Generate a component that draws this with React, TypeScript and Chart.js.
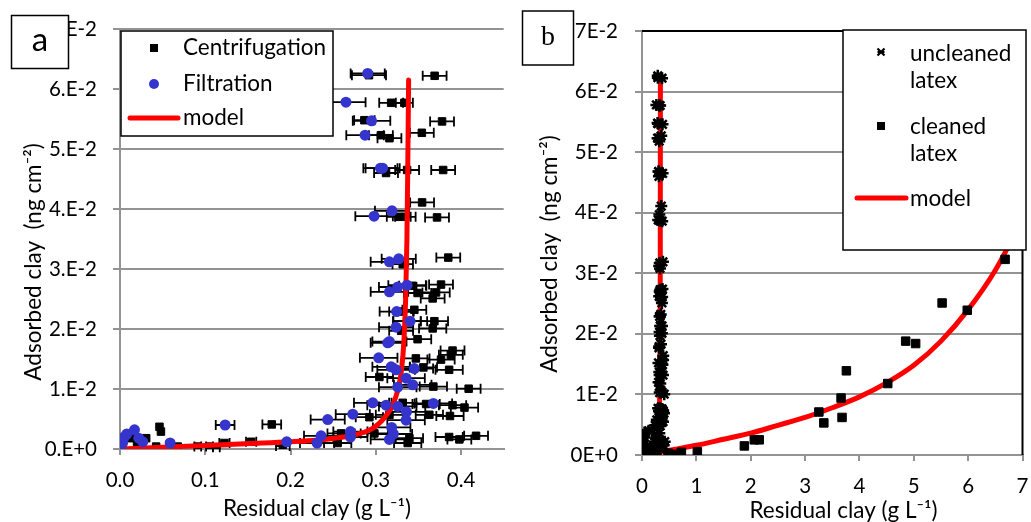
import React, { useEffect, useRef } from 'react';
import { Chart, registerables } from 'chart.js';
Chart.register(...registerables);

const FONT = "Lato, 'Noto Sans', sans-serif";

// ---------- Panel a : Centrifugation ----------
const centX = [0.292, 0.369, 0.318, 0.3335, 0.2866, 0.3777, 0.354, 0.306, 0.316, 0.312, 0.3367, 0.379, 0.3543, 0.3269, 0.3347, 0.3718, 0.3316, 0.385, 0.3433, 0.3765, 0.349, 0.3707, 0.3667, 0.3297, 0.3452, 0.3367, 0.3687, 0.3667, 0.3297, 0.349, 0.39, 0.388, 0.347, 0.3765, 0.3558, 0.386, 0.3042, 0.3675, 0.4089, 0.3316, 0.359, 0.39, 0.404, 0.2925, 0.316, 0.3628, 0.387, 0.2593, 0.2553, 0.2983, 0.3394, 0.3374, 0.386, 0.4176, 0.398, 0.013, 0.0307, 0.0463, 0.048, 0.0424, 0.0678, 0.0912, 0.105, 0.113, 0.1225, 0.178, 0.1538, 0.191, 0.0, 0.02];
const centY = [0.0623, 0.0622, 0.0577, 0.0577, 0.0548, 0.0546, 0.0527, 0.0523, 0.0518, 0.046, 0.0465, 0.0465, 0.0411, 0.0387, 0.0387, 0.0386, 0.0308, 0.0319, 0.0272, 0.0274, 0.026, 0.0261, 0.0251, 0.0229, 0.0232, 0.0213, 0.0213, 0.0201, 0.0197, 0.0183, 0.0164, 0.0157, 0.0151, 0.0149, 0.0136, 0.0132, 0.012, 0.0104, 0.01005, 0.0077, 0.0075, 0.0073, 0.0069, 0.0053, 0.0057, 0.0057, 0.0055, 0.0026, 0.001, 0.0026, 0.0018, 0.001, 0.002, 0.0022, 0.0016, 0.0018, 0.0018, 0.0037, 0.0029, 0.0004, 0.0004, 0.0004, 0.0004, 0.0003, 0.001, 0.0041, 0.0012, 0.0005, 0.0005, 0.0008];
const centErr = [0.02, 0.014, 0.014, 0.01, 0.012, 0.014, 0.014, 0.014, 0.014, 0.014, 0.014, 0.014, 0.014, 0.014, 0.012, 0.014, 0.012, 0.014, 0.016, 0.014, 0.016, 0.016, 0.014, 0.014, 0.014, 0.016, 0.016, 0.016, 0.014, 0.016, 0.014, 0.014, 0.016, 0.016, 0.016, 0.016, 0.016, 0.016, 0.014, 0.016, 0.016, 0.016, 0.016, 0.016, 0.016, 0.016, 0.016, 0.016, 0.016, 0.016, 0.016, 0.016, 0.016, 0.014, 0.014, 0, 0, 0, 0, 0, 0, 0.004, 0.004, 0.004, 0.006, 0.011, 0.006, 0.008, 0, 0];

// ---------- Panel a : Filtration ----------
const filtX = [0.2905, 0.265, 0.295, 0.2874, 0.3054, 0.308, 0.319, 0.298, 0.3269, 0.316, 0.3367, 0.3257, 0.316, 0.3245, 0.3402, 0.3238, 0.316, 0.314, 0.3034, 0.318, 0.3238, 0.3452, 0.3355, 0.3433, 0.3257, 0.2964, 0.312, 0.3257, 0.3675, 0.273, 0.2436, 0.336, 0.3355, 0.3186, 0.3206, 0.316, 0.2702, 0.2702, 0.2358, 0.2311, 0.1955, 0.0, 0.005, 0.017, 0.0267, 0.0588, 0.1233, 0.003, 0.008, 0.022];
const filtY = [0.0626, 0.0578, 0.0547, 0.0523, 0.0468, 0.0468, 0.0397, 0.0388, 0.0317, 0.0312, 0.0273, 0.027, 0.0262, 0.0229, 0.0213, 0.0203, 0.0179, 0.0177, 0.0152, 0.0137, 0.0132, 0.0134, 0.0118, 0.0107, 0.0103, 0.0077, 0.0073, 0.0071, 0.0076, 0.0058, 0.0049, 0.0062, 0.0048, 0.0036, 0.0025, 0.0016, 0.0029, 0.002, 0.0022, 0.001, 0.0012, 0.0004, 0.002, 0.0032, 0.0012, 0.001, 0.004, 0.001, 0.0025, 0.0018];
const filtErr = [0.02, 0.023, 0.022, 0.022, 0.02, 0.02, 0.02, 0.022, 0.02, 0.022, 0.022, 0.022, 0.022, 0.02, 0.02, 0.02, 0.02, 0.02, 0.022, 0.022, 0.022, 0.022, 0.022, 0.022, 0.022, 0.022, 0.022, 0.022, 0.022, 0.02, 0.02, 0.022, 0.022, 0.022, 0.022, 0.022, 0.02, 0.02, 0.02, 0.02, 0, 0, 0, 0, 0, 0, 0.011, 0, 0, 0];

// ---------- Model (panel a, also the steep curve of panel b) ----------
const modelAX = [0, 0.05, 0.1, 0.15, 0.2, 0.24, 0.27, 0.29, 0.3, 0.31, 0.318, 0.323, 0.327, 0.33, 0.333, 0.335, 0.3365, 0.3375, 0.3385];
const modelAY = [0, 0.0003, 0.0006, 0.0009, 0.0012, 0.0016, 0.0022, 0.003, 0.0038, 0.0052, 0.0068, 0.0085, 0.0105, 0.013, 0.018, 0.025, 0.035, 0.047, 0.0615];

// ---------- Panel b : cleaned latex ----------
const cleanX = [0.27, 0.48, 0.634, 0.725, 1.018, 1.883, 2.066, 2.157, 3.254, 3.345, 3.662, 3.68, 3.76, 4.521, 4.851, 5.034, 5.521, 5.984, 6.68];
const cleanY = [0.0003, 0.0003, 0.0001, 0.00045, 0.00055, 0.0015, 0.0025, 0.0025, 0.0071, 0.0053, 0.0094, 0.0062, 0.0139, 0.0118, 0.0188, 0.0184, 0.0251, 0.0239, 0.0323];

// ---------- Panel b : model for cleaned latex ----------
const modelBX = [0.33, 0.5, 1, 1.5, 2, 2.5, 3, 3.5, 4, 4.5, 5, 5.5, 6, 6.5, 7];
const modelBY = [0.0005, 0.0008, 0.0016, 0.0026, 0.0036, 0.0049, 0.0062, 0.0078, 0.0096, 0.0119, 0.0148, 0.0188, 0.024, 0.0305, 0.039];

// ---------- Ticks ----------
const xTicksA = [0, 0.1, 0.2, 0.3, 0.4];
const xTickLabelsA = ['0.0', '0.1', '0.2', '0.3', '0.4'];
const xTicksB = [0, 1, 2, 3, 4, 5, 6, 7];
const xTickLabelsB = ['0', '1', '2', '3', '4', '5', '6', '7'];
const yTicks = [0, 0.01, 0.02, 0.03, 0.04, 0.05, 0.06, 0.07];
const yTickLabelsA = ['0.E+0', '1.E-2', '2.E-2', '3.E-2', '4.E-2', '5.E-2', '6.E-2', '7.E-2'];
const yTickLabelsB = ['0E+0', '1E-2', '2E-2', '3E-2', '4E-2', '5E-2', '6E-2', '7E-2'];

const xTitle = 'Residual clay (g L\u207B\u00B9)';
const yTitle = 'Adsorbed clay  (ng cm\u207B\u00B2)';

const pts = (xs: number[], ys: number[]) => xs.map((x, i) => ({ x, y: ys[i] }));

const GRID = '#939393';
const TICK_SIZE = 20.5;
const TITLE_SIZE = 22.5;
const LEGEND_SIZE = 22.5;

const errorBarPlugin = {
  id: 'errorBars',
  beforeDatasetsDraw(chart: any) {
    const ctx = chart.ctx;
    const xs = chart.scales.x;
    chart.data.datasets.forEach((ds: any, i: number) => {
      if (!ds.xErr) return;
      const meta = chart.getDatasetMeta(i);
      if (meta.hidden) return;
      ctx.save();
      ctx.strokeStyle = '#000';
      ctx.lineWidth = 1.8;
      ds.data.forEach((p: any, j: number) => {
        const e = ds.xErr[j];
        if (!e) return;
        const el = meta.data[j];
        const y = el.y;
        const x1 = xs.getPixelForValue(p.x - e);
        const x2 = xs.getPixelForValue(p.x + e);
        ctx.beginPath();
        ctx.moveTo(x1, y); ctx.lineTo(x2, y);
        ctx.moveTo(x1, y - 5); ctx.lineTo(x1, y + 5);
        ctx.moveTo(x2, y - 5); ctx.lineTo(x2, y + 5);
        ctx.stroke();
      });
      ctx.restore();
    });
  },
};

function drawMarker(ctx: CanvasRenderingContext2D, kind: string, color: string, x: number, y: number) {
  ctx.save();
  ctx.fillStyle = color;
  ctx.strokeStyle = color;
  if (kind === 'rect') {
    ctx.fillRect(x - 4, y - 4, 8, 8);
  } else if (kind === 'circle') {
    ctx.beginPath(); ctx.arc(x, y, 5, 0, Math.PI * 2); ctx.fill();
  } else if (kind === 'star') {
    ctx.lineWidth = 2.2;
    ctx.beginPath();
    ctx.moveTo(x - 3.5, y - 3.5); ctx.lineTo(x + 3.5, y + 3.5);
    ctx.moveTo(x - 3.5, y + 3.5); ctx.lineTo(x + 3.5, y - 3.5);
    ctx.moveTo(x - 3.5, y); ctx.lineTo(x + 3.5, y);
    ctx.stroke();
  }
  ctx.restore();
}

const overlayPlugin = {
  id: 'overlay',
  afterDraw(chart: any, _args: any, opts: any) {
    const ctx: CanvasRenderingContext2D = chart.ctx;
    const ca = chart.chartArea;
    ctx.save();
    if (opts.frame) {
      ctx.strokeStyle = '#000';
      ctx.lineWidth = 2;
      ctx.beginPath();
      ctx.moveTo(ca.left, ca.top); ctx.lineTo(ca.right, ca.top); ctx.lineTo(ca.right, ca.bottom);
      ctx.stroke();
    }
    // axis titles
    const T = opts.titles;
    if (T) {
      ctx.fillStyle = '#000';
      ctx.font = `${TITLE_SIZE}px ${FONT}`;
      ctx.textAlign = 'center';
      ctx.textBaseline = 'middle';
      ctx.fillText(T.x, T.xcx, T.xcy);
      ctx.save();
      ctx.translate(T.ycx, T.ycy);
      ctx.rotate(-Math.PI / 2);
      ctx.fillText(T.y, 0, 0);
      ctx.restore();
    }
    const L = opts.legend;
    if (L) {
      ctx.fillStyle = '#fff';
      ctx.fillRect(L.x, L.y, L.w, L.h);
      ctx.strokeStyle = '#000';
      ctx.lineWidth = 1.5;
      ctx.strokeRect(L.x, L.y, L.w, L.h);
      ctx.font = `${LEGEND_SIZE}px ${FONT}`;
      ctx.textBaseline = 'middle';
      ctx.textAlign = 'left';
      L.items.forEach((it: any) => {
        const ds = chart.data.datasets[it.ds];
        const lines = L.wrap ? String(ds.label).split(' ') : [String(ds.label)];
        if (it.kind === 'line') {
          ctx.save();
          ctx.strokeStyle = ds.borderColor;
          ctx.lineWidth = 5;
          ctx.lineCap = 'round';
          ctx.beginPath(); ctx.moveTo(it.mx1, it.my); ctx.lineTo(it.mx2, it.my); ctx.stroke();
          ctx.restore();
        } else {
          drawMarker(ctx, it.kind, ds.backgroundColor, it.mx, it.my);
        }
        ctx.fillStyle = '#000';
        lines.forEach((t: string, k: number) => ctx.fillText(t, L.tx, it.ty + k * L.lh));
      });
    }
    const P = opts.panel;
    if (P) {
      ctx.fillStyle = '#fff';
      ctx.fillRect(P.x, P.y, P.w, P.h);
      ctx.strokeStyle = '#000';
      ctx.lineWidth = 1.5;
      ctx.strokeRect(P.x, P.y, P.w, P.h);
      ctx.fillStyle = '#000';
      ctx.font = P.font;
      ctx.textAlign = 'center';
      ctx.textBaseline = 'middle';
      ctx.fillText(P.text, P.x + P.w / 2, P.y + P.h / 2 + P.dy);
    }
    ctx.restore();
  },
};

function buildOptions(cfg: any) {
  return {
    responsive: false,
    animation: false,
    devicePixelRatio: 1,
    layout: { padding: { top: cfg.padTop, right: cfg.padRight, left: 0, bottom: 0 } },
    plugins: {
      legend: { display: false },
      tooltip: { enabled: false },
      overlay: cfg.overlay,
    },
    scales: {
      x: {
        type: 'linear',
        min: cfg.xMin,
        max: cfg.xMax,
        afterFit: (s: any) => { s.height = cfg.xHeight; s.paddingLeft = 0; s.paddingRight = 0; },
        afterBuildTicks: (s: any) => { s.ticks = cfg.xTicks.map((v: number) => ({ value: v })); },
        grid: { display: true, drawOnChartArea: false, drawTicks: true, tickLength: 6, color: GRID, lineWidth: 2 },
        border: { display: true, color: GRID, width: 2 },
        ticks: {
          autoSkip: false,
          maxRotation: 0,
          padding: 13,
          color: '#000',
          font: { family: FONT, size: TICK_SIZE },
          callback: (_v: any, i: number) => cfg.xLabels[i],
        },
        title: { display: false, text: xTitle },
      },
      y: {
        type: 'linear',
        min: 0,
        max: 0.07,
        afterFit: (s: any) => { s.width = cfg.yWidth; s.paddingTop = 0; s.paddingBottom = 0; },
        afterBuildTicks: (s: any) => { s.ticks = yTicks.map((v) => ({ value: v })); },
        grid: { display: true, color: GRID, lineWidth: 2, tickLength: 7 },
        border: { display: true, color: GRID, width: 2 },
        ticks: {
          autoSkip: false,
          padding: cfg.yTickPad,
          color: '#000',
          font: { family: FONT, size: TICK_SIZE },
          callback: (_v: any, i: number) => cfg.yLabels[i],
        },
        title: { display: false, text: yTitle },
      },
    },
  };
}

function ChartA() {
  const ref = useRef<HTMLCanvasElement>(null);
  useEffect(() => {
    const chart = new Chart(ref.current as HTMLCanvasElement, {
      type: 'scatter',
      data: {
        datasets: [
          {
            label: 'Centrifugation', data: pts(centX, centY), xErr: centErr,
            pointStyle: 'rect', pointRadius: 5.3, backgroundColor: '#000', borderColor: '#000', borderWidth: 1, order: 2,
          } as any,
          {
            label: 'Filtration', data: pts(filtX, filtY), xErr: filtErr,
            pointStyle: 'circle', pointRadius: 5.5, backgroundColor: '#3535CD', borderColor: '#3535CD', borderWidth: 0, order: 0,
          } as any,
          {
            label: 'model', data: pts(modelAX, modelAY), showLine: true, pointRadius: 0,
            borderColor: '#FF0000', backgroundColor: '#FF0000', borderWidth: 5, cubicInterpolationMode: 'monotone',
            borderCapStyle: 'round', order: 1,
          } as any,
        ],
      },
      options: buildOptions({
        padTop: 29, padRight: 5.6, xMin: 0, xMax: 0.45, xHeight: 73, yWidth: 120,
        xTicks: xTicksA, xLabels: xTickLabelsA, yLabels: yTickLabelsA, yTickPad: 16,
        overlay: {
          titles: { x: xTitle, xcx: 317, xcy: 509, y: yTitle, ycx: 34, ycy: 262 },
          legend: {
            x: 121, y: 31, w: 212, h: 105, tx: 183, lh: 26, wrap: false,
            items: [
              { ds: 0, kind: 'rect', mx: 154, my: 48, ty: 48 },
              { ds: 1, kind: 'circle', mx: 154, my: 84, ty: 84 },
              { ds: 2, kind: 'line', mx1: 130, mx2: 178, my: 118, ty: 118 },
            ],
          },
          panel: { x: 11.5, y: 15.5, w: 57, h: 53, text: 'a', font: `33px ${FONT}`, dy: -2 },
        },
      }) as any,
      plugins: [errorBarPlugin, overlayPlugin],
    });
    return () => chart.destroy();
  }, []);
  return <canvas ref={ref} width={510} height={522} />;
}

function ChartB() {
  const ref = useRef<HTMLCanvasElement>(null);
  useEffect(() => {
    const chart = new Chart(ref.current as HTMLCanvasElement, {
      type: 'scatter',
      data: {
        datasets: [
          {
            label: 'uncleaned latex', data: pts(centX.concat(filtX), centY.concat(filtY)),
            pointStyle: 'star', pointRadius: 6, backgroundColor: '#000', borderColor: '#000', borderWidth: 2.5, order: 1,
          } as any,
          {
            label: 'cleaned latex', data: pts(cleanX, cleanY),
            pointStyle: 'rect', pointRadius: 6, backgroundColor: '#000', borderColor: '#000', borderWidth: 1, order: 2,
          } as any,
          {
            label: 'model', data: pts(modelBX, modelBY), showLine: true, pointRadius: 0,
            borderColor: '#FF0000', backgroundColor: '#FF0000', borderWidth: 5, cubicInterpolationMode: 'monotone',
            borderCapStyle: 'round', order: 3,
          } as any,
          {
            label: 'model', data: pts(modelAX, modelAY), showLine: true, pointRadius: 0,
            borderColor: '#FF0000', backgroundColor: '#FF0000', borderWidth: 5, cubicInterpolationMode: 'monotone',
            borderCapStyle: 'round', order: 3,
          } as any,
        ],
      },
      options: buildOptions({
        padTop: 31, padRight: 6, xMin: 0, xMax: 7, xHeight: 67, yWidth: 132,
        xTicks: xTicksB, xLabels: xTickLabelsB, yLabels: yTickLabelsB, yTickPad: 17,
        overlay: {
          frame: true,
          titles: { x: xTitle, xcx: 333.5, xcy: 511, y: yTitle, ycx: 40, ycy: 254 },
          legend: {
            x: 333, y: 30, w: 183, h: 220, tx: 400, lh: 27, wrap: true,
            items: [
              { ds: 0, kind: 'star', mx: 371, my: 52, ty: 54 },
              { ds: 1, kind: 'rect', mx: 371, my: 126, ty: 127 },
              { ds: 2, kind: 'line', mx1: 347, mx2: 396, my: 198, ty: 199 },
            ],
          },
          panel: { x: 12.5, y: 11, w: 51, h: 54, text: 'b', font: `28px 'Liberation Serif', 'DejaVu Serif', serif`, dy: 0 },
        },
      }) as any,
      plugins: [overlayPlugin],
    });
    return () => chart.destroy();
  }, []);
  return <canvas ref={ref} width={521} height={522} />;
}

export default function App() {
  return (
    <div style={{ position: 'absolute', left: 0, top: 0, width: 1031, height: 522, background: '#fff' }}>
      <div style={{ position: 'absolute', left: 0, top: 0, width: 510, height: 522 }}>
        <ChartA />
      </div>
      <div style={{ position: 'absolute', left: 510, top: 0, width: 521, height: 522 }}>
        <ChartB />
      </div>
    </div>
  );
}
